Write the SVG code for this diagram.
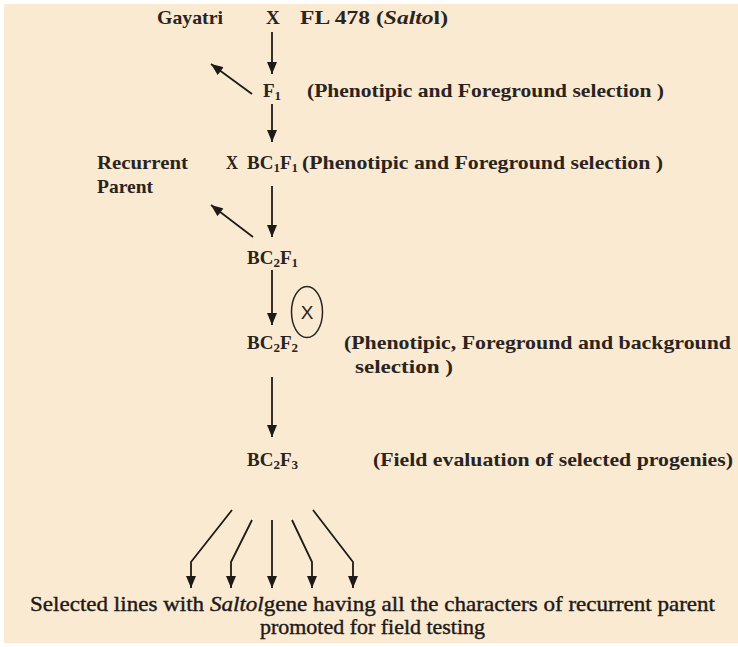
<svg xmlns="http://www.w3.org/2000/svg" width="738" height="647" viewBox="0 0 738 647">
<defs>
<marker id="ah" viewBox="0 0 12 10" refX="12" refY="5" markerWidth="12" markerHeight="10" markerUnits="userSpaceOnUse" orient="auto">
<path d="M0,0 L12,5 L0,10 Z" fill="#1e1a17"/>
</marker>
<style>
.t{font-family:"Liberation Serif","DejaVu Serif",serif;font-size:19px;font-weight:bold;fill:#2a2420}
.b{font-size:21px;fill:#1e1a17;stroke:#1e1a17;stroke-width:0.4}
.sub{font-size:13px}
.ar{stroke:#1e1a17;stroke-width:1.8;fill:none;marker-end:url(#ah)}
</style>
</defs>
<rect x="0" y="0" width="738" height="647" fill="#ffffff"/>
<rect x="4" y="4" width="734" height="639" fill="#fbead2"/>

<g id="cross1">
<text class="t" x="157" y="24" textLength="66" lengthAdjust="spacingAndGlyphs">Gayatri</text>
<text class="t" x="266" y="24">X</text>
<text class="t" x="300" y="24" textLength="148" lengthAdjust="spacingAndGlyphs">FL 478 (<tspan font-style="italic">Salto</tspan>l)</text>
</g>

<g id="f1">
<text class="t" x="263" y="97">F<tspan class="sub" dy="3">1</tspan></text>
<text class="t" x="307" y="97" textLength="357" lengthAdjust="spacingAndGlyphs">(Phenotipic and Foreground selection )</text>
</g>

<g id="recurrent-parent">
<text class="t" x="97" y="169" textLength="91" lengthAdjust="spacingAndGlyphs">Recurrent</text>
<text class="t" x="97" y="193" textLength="56" lengthAdjust="spacingAndGlyphs">Parent</text>
<text class="t" x="226" y="169" textLength="12" lengthAdjust="spacingAndGlyphs">X</text>
</g>

<g id="bc1f1">
<text class="t" x="247" y="169">BC<tspan class="sub" dy="3">1</tspan><tspan dy="-3">F</tspan><tspan class="sub" dy="3">1</tspan></text>
<text class="t" x="302" y="169" textLength="361" lengthAdjust="spacingAndGlyphs">(Phenotipic and Foreground selection )</text>
</g>

<g id="bc2f1">
<text class="t" x="247" y="264">BC<tspan class="sub" dy="3">2</tspan><tspan dy="-3">F</tspan><tspan class="sub" dy="3">1</tspan></text>
</g>

<g id="selfing">
<ellipse cx="307" cy="312" rx="15.5" ry="25.5" fill="none" stroke="#2a2420" stroke-width="1.5"/>
<text x="307" y="319" text-anchor="middle" font-family="'Liberation Sans','DejaVu Sans',sans-serif" font-size="19" fill="#2a2420">X</text>
</g>

<g id="bc2f2">
<text class="t" x="247" y="349">BC<tspan class="sub" dy="3">2</tspan><tspan dy="-3">F</tspan><tspan class="sub" dy="3">2</tspan></text>
<text class="t" x="344" y="349" textLength="387" lengthAdjust="spacingAndGlyphs">(Phenotipic, Foreground and background</text>
<text class="t" x="355" y="373" textLength="98" lengthAdjust="spacingAndGlyphs">selection )</text>
</g>

<g id="bc2f3">
<text class="t" x="247" y="466">BC<tspan class="sub" dy="3">2</tspan><tspan dy="-3">F</tspan><tspan class="sub" dy="3">3</tspan></text>
<text class="t" x="373" y="466" textLength="360" lengthAdjust="spacingAndGlyphs">(Field evaluation of selected progenies)</text>
</g>

<g id="selected-lines">
<text class="b" font-family="Liberation Serif, DejaVu Serif, serif" x="30" y="611" textLength="685" lengthAdjust="spacingAndGlyphs">Selected lines with <tspan font-style="italic">Saltol</tspan>gene having all the characters of  recurrent parent</text>
<text class="b" font-family="Liberation Serif, DejaVu Serif, serif" x="260" y="634" textLength="225" lengthAdjust="spacingAndGlyphs">promoted for field testing</text>
</g>

<g id="connectors">
<line class="ar" x1="272" y1="32" x2="272" y2="74"/>
<line class="ar" x1="252" y1="94" x2="211" y2="64"/>
<line class="ar" x1="272" y1="104" x2="272" y2="142"/>
<line class="ar" x1="272" y1="186" x2="272" y2="237"/>
<line class="ar" x1="253" y1="237" x2="211" y2="205"/>
<line class="ar" x1="272" y1="270" x2="272" y2="325"/>
<line class="ar" x1="272" y1="377" x2="272" y2="437"/>
<polyline class="ar" points="232,510 191,562 191,588"/>
<polyline class="ar" points="252,520 231,562 231,588"/>
<line class="ar" x1="272" y1="520" x2="272" y2="588"/>
<polyline class="ar" points="292,520 312,562 312,588"/>
<polyline class="ar" points="313,510 353,562 353,588"/>
</g>
</svg>
